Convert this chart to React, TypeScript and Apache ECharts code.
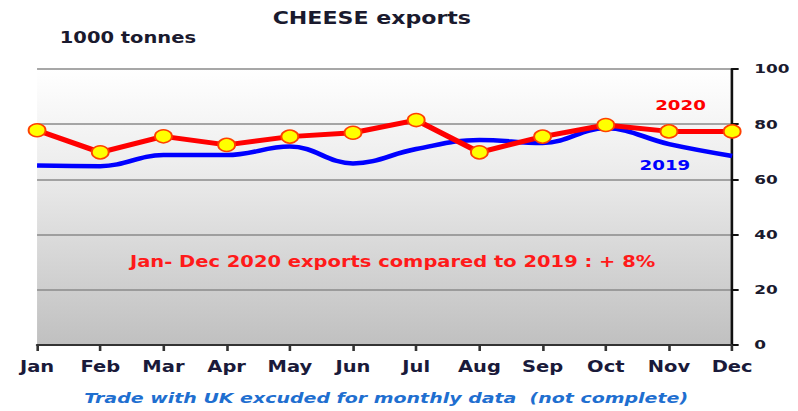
import React, { useEffect, useRef } from "react";
import * as echarts from "echarts";

const months = ["Jan", "Feb", "Mar", "Apr", "May", "Jun", "Jul", "Aug", "Sep", "Oct", "Nov", "Dec"];
const exports2020 = [77.8, 69.8, 75.6, 72.5, 75.5, 76.9, 81.5, 69.8, 75.5, 79.7, 77.4, 77.4];
const exports2019 = [65.0, 64.8, 68.8, 68.8, 71.9, 65.8, 71.0, 74.3, 73.2, 78.5, 72.8, 68.5];
const yTicks = { min: 0, max: 100, interval: 20 };

const FONT = "DejaVu Sans";
const STRETCH = 1.3;
const W = 614;
const H = 411;

export default function App() {
  const ref = useRef<HTMLDivElement>(null);
  useEffect(() => {
    if (!ref.current) return;
    const chart = echarts.init(ref.current, undefined, { renderer: "svg" });
    chart.setOption({
      animation: false,
      backgroundColor: "#ffffff",
      title: {
        text: "CHEESE exports",
        left: 281,
        top: 5,
        textAlign: "center",
        textStyle: { fontFamily: FONT, fontSize: 17, fontWeight: "bold", color: "#1a1a2e" },
      },
      grid: {
        left: 28.5,
        right: 50.8,
        top: 69,
        bottom: 66,
        show: true,
        borderWidth: 0,
        outerBoundsMode: "none",
        backgroundColor: {
          type: "linear",
          x: 0, y: 0, x2: 0, y2: 1,
          colorStops: [
            { offset: 0, color: "#ffffff" },
            { offset: 0.35, color: "#ededed" },
            { offset: 1, color: "#c0c0c0" },
          ],
        },
      },
      xAxis: {
        type: "category",
        data: months,
        boundaryGap: false,
        axisLine: { show: true, lineStyle: { color: "#333333", width: 2 } },
        axisTick: { show: true, alignWithLabel: true, length: 6, lineStyle: { color: "#333333", width: 2 } },
        axisLabel: {
          fontFamily: FONT, fontSize: 15, fontWeight: "bold", color: "#1a1a3a", margin: 14,
        },
        splitLine: { show: false },
      },
      yAxis: {
        type: "value",
        position: "right",
        min: yTicks.min,
        max: yTicks.max,
        interval: yTicks.interval,
        axisLine: { show: true, lineStyle: { color: "#111111", width: 2 } },
        axisTick: { show: true, length: 5, lineStyle: { color: "#111111", width: 2 } },
        axisLabel: {
          fontFamily: FONT, fontSize: 13, fontWeight: "bold", color: "#1a1a2e",
          margin: 17,
        },
        splitLine: { show: true, lineStyle: { color: "#8a8a8a", width: 1.5 } },
      },
      series: [
        {
          name: "2019",
          type: "line",
          data: exports2019,
          smooth: 0.4,
          showSymbol: false,
          symbol: "none",
          lineStyle: { color: "#0000ff", width: 4.5 },
          z: 2,
        },
        {
          name: "2020",
          type: "line",
          data: exports2020,
          smooth: false,
          symbol: "circle",
          symbolSize: 13,
          itemStyle: { color: "#ffff00", borderColor: "#ff4000", borderWidth: 1.5 },
          lineStyle: { color: "#ff0000", width: 5 },
          z: 3,
        },
      ],
      graphic: [
        {
          type: "text", left: 46, top: 30,
          style: { text: "1000 tonnes", fontFamily: FONT, fontSize: 15, fontWeight: "bold", fill: "#1a1a2e" },
        },
        {
          type: "text", x: 504, y: 105,
          style: { text: "2020", fontFamily: FONT, fontSize: 14, fontWeight: "bold", fill: "#ff0000", verticalAlign: "middle" },
        },
        {
          type: "text", x: 492, y: 165,
          style: { text: "2019", fontFamily: FONT, fontSize: 14, fontWeight: "bold", fill: "#0000ff", verticalAlign: "middle" },
        },
        {
          type: "text", x: 302, y: 262,
          style: {
            text: "Jan- Dec 2020 exports compared to 2019 : + 8%",
            fontFamily: FONT, fontSize: 15, fontWeight: "bold", fill: "#ff1a1a",
            align: "center", verticalAlign: "middle",
          },
        },
        {
          type: "text", x: 297, y: 398,
          style: {
            text: "Trade with UK excuded for monthly data  (not complete)",
            fontFamily: FONT, fontSize: 14.6, fontWeight: "bold", fontStyle: "italic", fill: "#1f6fd0",
            align: "center", verticalAlign: "middle",
          },
        },
      ],
    });
    return () => chart.dispose();
  }, []);
  return (
    <div style={{ position: "absolute", left: 0, top: 0, width: 798, height: H, overflow: "hidden", background: "#fff" }}>
      <div
        ref={ref}
        style={{ width: W, height: H, transform: `scaleX(${STRETCH})`, transformOrigin: "0 0" }}
      />
    </div>
  );
}
